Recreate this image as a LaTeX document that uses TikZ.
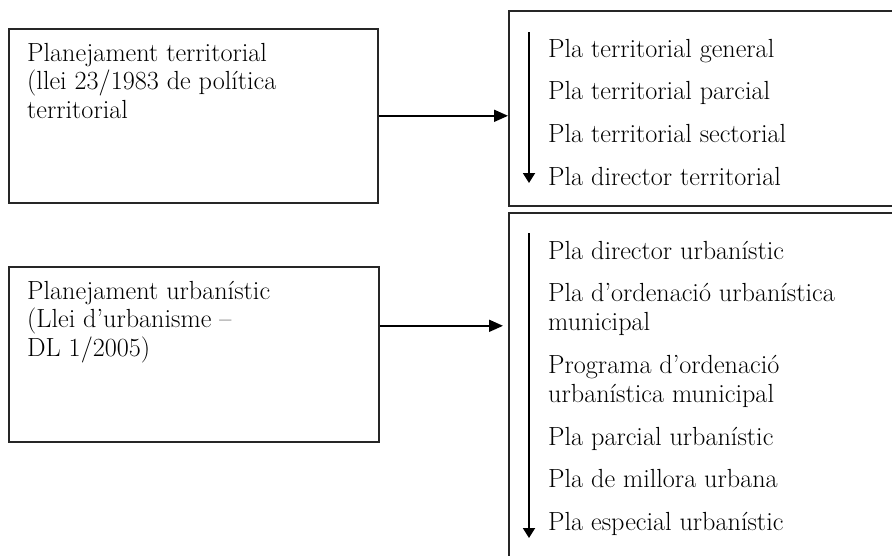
\documentclass[tikz,border=0pt]{standalone}
\usetikzlibrary{arrows.meta}
\begin{document}
\begin{tikzpicture}[x=1pt,y=-1pt,
  frame/.style={draw=black!85,line width=1.6pt,anchor=north west,inner sep=0pt},
  txt/.style={anchor=base west,inner sep=0pt,align=left,
    font=\fontsize{26.2}{28.5}\selectfont},
  link/.style={line width=1.8pt,-{Triangle[length=14pt,width=12pt]}},
  order/.style={line width=1.8pt,-{Triangle[length=10pt,width=12pt]}}]
\useasboundingbox (0,0) rectangle (892,555);
\clip (0,0) rectangle (892,555);

% left boxes
\node[frame,minimum width=369pt,minimum height=174pt] (terr) at (8,28) {};
\node[frame,minimum width=370pt,minimum height=175pt] (urb) at (8,266) {};
% right boxes (run past the page edge)
\node[frame,minimum width=400pt,minimum height=195pt] (terrlist) at (508,10) {};
\node[frame,minimum width=400pt,minimum height=360pt] (urblist) at (508,212) {};

% left texts (anchored on the baseline of their last line)
\node[txt] (terrtxt) at (27,118) {Planejament territorial\\(llei 23/1983 de política\\territorial};
\node[txt] (urbtxt) at (27,356) {Planejament urbanístic\\(Llei d’urbanisme –\\DL 1/2005)};

% territorial plans
\node[txt] (t1) at (548,57) {Pla territorial general};
\node[txt] (t2) at (548,99.5) {Pla territorial parcial};
\node[txt] (t3) at (548,142) {Pla territorial sectorial};
\node[txt] (t4) at (548,185) {Pla director territorial};

% urban plans
\node[txt] (u1) at (548,259) {Pla director urbanístic};
\node[txt] (u2) at (548,330) {Pla d’ordenació urbanística\\municipal};
\node[txt] (u3) at (548,402) {Programa d’ordenació\\urbanística municipal};
\node[txt] (u4) at (548,445) {Pla parcial urbanístic};
\node[txt] (u5) at (548,487) {Pla de millora urbana};
\node[txt] (u6) at (548,530) {Pla especial urbanístic};

% connectors
\draw[link] (terr.east) -- (terr.east -| terrlist.west);
\coordinate (urbout) at ([yshift=28.5pt]urb.east);
\draw[link,shorten >=5pt] (urbout) -- (urbout -| urblist.west);

% order arrows
\coordinate (ta) at (529,32);
\coordinate (tb) at (529,183);
\coordinate (ua) at (529,233);
\coordinate (ub) at (529,538);
\draw[order] (ta) -- (tb);
\draw[order] (ua) -- (ub);
\end{tikzpicture}
\end{document}
